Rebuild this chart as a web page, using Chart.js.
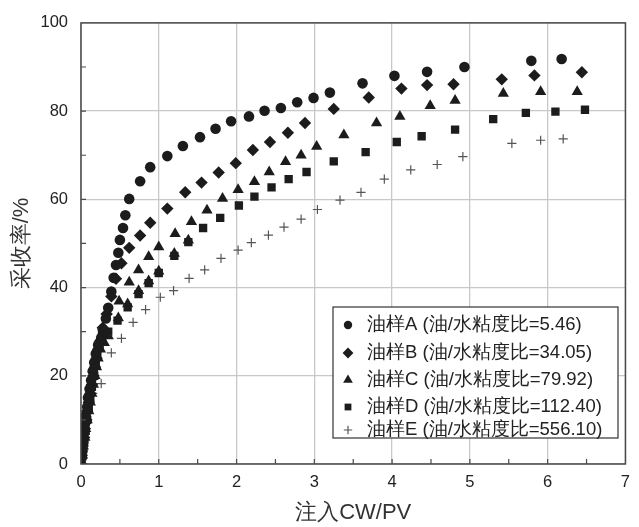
<!DOCTYPE html>
<html>
<head>
<meta charset="utf-8">
<script src="https://cdn.jsdelivr.net/npm/chart.js@4/dist/chart.umd.min.js"></script>
<style>
  body { margin: 0; background: #fff; }
</style>
</head>
<body>
<canvas id="recoveryChart" width="639" height="527"></canvas>
<script>
// recovery vs injected volume, [CW/PV, %]
const seriesA = [[0,0],[0.01,1.5],[0.02,3],[0.03,5],[0.04,7],[0.05,9],[0.06,11],[0.08,13],[0.09,15],[0.11,17],[0.13,19],[0.15,21],[0.17,23],[0.19,25],[0.22,27],[0.26,28.6],[0.28,30.5],[0.32,33],[0.35,35.4],[0.39,39.1],[0.42,42.2],[0.45,45.1],[0.48,47.9],[0.5,50.8],[0.54,53.5],[0.57,56.4],[0.62,60.1],[0.76,64.1],[0.89,67.3],[1.11,69.8],[1.31,72.1],[1.53,74.1],[1.73,76],[1.93,77.7],[2.16,78.8],[2.36,80.1],[2.57,80.7],[2.78,82],[2.99,83],[3.2,84.2],[3.62,86.3],[4.03,88],[4.45,88.9],[4.93,90],[5.79,91.4],[6.18,91.8]];
const seriesB = [[0,0],[0.01,2],[0.02,4],[0.04,6],[0.05,8],[0.07,10],[0.08,12],[0.1,14],[0.12,16],[0.14,18],[0.16,20],[0.18,22],[0.2,24],[0.22,26],[0.25,28],[0.28,30.9],[0.33,34],[0.39,38],[0.45,42],[0.52,45.5],[0.62,49],[0.76,51.8],[0.89,54.7],[1.11,57.9],[1.34,61.6],[1.55,63.8],[1.77,66.1],[1.99,68.2],[2.21,71.2],[2.43,73],[2.66,75.1],[2.88,77.3],[3.25,80.5],[3.7,83.1],[4.12,85.1],[4.45,85.9],[4.79,86.1],[5.41,87.2],[5.83,88.1],[6.44,88.8]];
const seriesC = [[0,0],[0.02,2],[0.03,4],[0.05,6],[0.06,8],[0.08,10],[0.1,12],[0.12,14],[0.14,16],[0.16,18],[0.18,20],[0.2,22],[0.22,24],[0.25,26],[0.3,27.5],[0.35,29],[0.48,33.1],[0.49,36.9],[0.6,36.3],[0.62,41.2],[0.74,39.3],[0.74,44],[0.87,41.5],[0.87,47],[1,43.7],[1,49.2],[1.2,47.7],[1.21,52.2],[1.38,50.7],[1.42,54.9],[1.62,57.5],[1.82,60.2],[2.02,62.2],[2.23,64],[2.42,66.2],[2.63,68.5],[2.83,70],[3.03,72],[3.38,74.6],[3.8,77.3],[4.1,78.8],[4.49,81.2],[4.81,82.4],[5.43,84],[5.91,84.4],[6.38,84.4]];
const seriesD = [[0,0],[0.02,2.5],[0.04,5],[0.06,7.5],[0.08,10],[0.1,12.5],[0.12,15],[0.14,17.5],[0.17,20],[0.19,22.5],[0.21,25],[0.24,27],[0.27,29],[0.35,30],[0.47,32.5],[0.6,35.5],[0.74,38.5],[0.87,41],[1,43.3],[1.2,47.2],[1.38,50.3],[1.57,53.5],[1.79,55.8],[2.03,58.6],[2.23,60.6],[2.45,62.7],[2.67,64.6],[2.9,66.2],[3.25,68.6],[3.66,70.7],[4.06,73],[4.38,74.3],[4.81,75.8],[5.3,78.2],[5.72,79.6],[6.1,79.9],[6.48,80.3]];
const seriesE = [[0,0],[0.01,2.5],[0.02,5],[0.03,7.5],[0.05,9.7],[0.08,12],[0.11,14],[0.15,16],[0.26,18.2],[0.39,25.2],[0.52,28.5],[0.67,32.1],[0.83,35],[1.02,37.8],[1.19,39.3],[1.39,42.1],[1.59,44],[1.8,46.6],[2.02,48.5],[2.19,50.2],[2.41,51.9],[2.61,53.7],[2.83,55.5],[3.04,57.7],[3.33,59.8],[3.6,61.6],[3.9,64.6],[4.24,66.7],[4.58,67.9],[4.91,69.7],[5.54,72.7],[5.91,73.4],[6.2,73.7]];

const seriesNames = ['油样A (油/水粘度比=5.46)', '油样B (油/水粘度比=34.05)', '油样C (油/水粘度比=79.92)', '油样D (油/水粘度比=112.40)', '油样E (油/水粘度比=556.10)'];
const xTicks = [0, 1, 2, 3, 4, 5, 6, 7];
const yTicks = [0, 20, 40, 60, 80, 100];

const FONT = 'Liberation Sans, Arial, sans-serif';
const INK = '#1c1c1c';

const toPts = arr => arr.map(p => ({ x: p[0], y: p[1] }));

const styles = [
    { pointStyle: 'circle', radius: 5.3, legendR: 4.2 },
    { pointStyle: 'rectRot', radius: 6.2, legendR: 5.4 },
    { pointStyle: 'triangle', radius: 6.5, legendR: 5.6 },
    { pointStyle: 'rect', radius: 5.9, legendR: 4.8 },
    { pointStyle: 'cross', radius: 4.6, legendR: 4.2 }
];
const allSeries = [seriesA, seriesB, seriesC, seriesD, seriesE];

const datasets = allSeries.map((s, i) => ({
    label: seriesNames[i],
    data: toPts(s),
    pointStyle: styles[i].pointStyle,
    pointRadius: styles[i].radius,
    backgroundColor: i === 4 ? '#555' : INK,
    borderColor: i === 4 ? '#555' : INK,
    borderWidth: i === 4 ? 1.2 : 0
}));

// box frame + inward tick marks
const framePlugin = {
    id: 'frame',
    afterDraw(chart) {
        const { ctx, chartArea: a, scales } = chart;
        ctx.save();
        ctx.strokeStyle = '#4a4a4a';
        ctx.lineWidth = 1.5;
        ctx.strokeRect(a.left, a.top, a.right - a.left, a.bottom - a.top);
        ctx.lineWidth = 1.2;
        ctx.beginPath();
        for (let v = 0.5; v < 7; v += 0.5) {
            const px = scales.x.getPixelForValue(v);
            ctx.moveTo(px, a.bottom); ctx.lineTo(px, a.bottom - 5);
        }
        for (let v = 10; v < 100; v += 10) {
            const py = scales.y.getPixelForValue(v);
            ctx.moveTo(a.left, py); ctx.lineTo(a.left + 5, py);
        }
        ctx.stroke();
        ctx.restore();
    }
};

// legend box inside the plot
const legendPlugin = {
    id: 'insideLegend',
    afterDraw(chart) {
        const ctx = chart.ctx;
        const box = { x: 333, y: 307, w: 285, h: 131 };
        const rows = [325, 353, 380, 407, 430];
        ctx.save();
        ctx.fillStyle = '#fff';
        ctx.fillRect(box.x, box.y, box.w, box.h);
        ctx.strokeStyle = '#333';
        ctx.lineWidth = 1.2;
        ctx.strokeRect(box.x, box.y, box.w, box.h);
        chart.data.datasets.forEach((ds, i) => {
            ctx.fillStyle = ds.backgroundColor;
            ctx.strokeStyle = ds.borderColor;
            ctx.lineWidth = ds.borderWidth || 1;
            Chart.helpers.drawPoint(ctx, { pointStyle: ds.pointStyle, radius: styles[i].legendR, rotation: 0, borderWidth: ds.borderWidth }, 348, rows[i]);
            ctx.fillStyle = '#222';
            ctx.font = '18.5px ' + FONT;
            ctx.textBaseline = 'middle';
            ctx.fillText(ds.label, 367, rows[i]);
        });
        ctx.restore();
    }
};

new Chart(document.getElementById('recoveryChart'), {
    type: 'scatter',
    data: { datasets },
    options: {
        responsive: false,
        animation: false,
        layout: { padding: { top: 18, right: 7, left: 0, bottom: 0 } },
        plugins: { legend: { display: false }, tooltip: { enabled: false } },
        scales: {
            x: {
                type: 'linear', min: 0, max: 7,
                afterBuildTicks: s => { s.ticks = xTicks.map(v => ({ value: v })); },
                afterFit: s => { s.height = 63; },
                ticks: { font: { family: FONT, size: 16.5 }, color: '#222', padding: 9, maxRotation: 0, autoSkip: false },
                grid: { color: '#c8c8c8', lineWidth: 1.3, drawTicks: false },
                border: { display: false },
                title: { display: true, text: '注入CW/PV', font: { family: FONT, size: 22 }, color: '#333', padding: { top: 0, bottom: 1 } }
            },
            y: {
                type: 'linear', min: 0, max: 100,
                afterBuildTicks: s => { s.ticks = yTicks.map(v => ({ value: v })); },
                afterFit: s => { s.width = 81; },
                ticks: { font: { family: FONT, size: 16.5 }, color: '#222', padding: 13 },
                grid: { color: '#c8c8c8', lineWidth: 1.3, drawTicks: false },
                border: { display: false },
                title: { display: true, text: '采收率/%', font: { family: FONT, size: 22 }, color: '#333', padding: { top: 9, bottom: 0 } }
            }
        }
    },
    plugins: [framePlugin, legendPlugin]
});
</script>
</body>
</html>
